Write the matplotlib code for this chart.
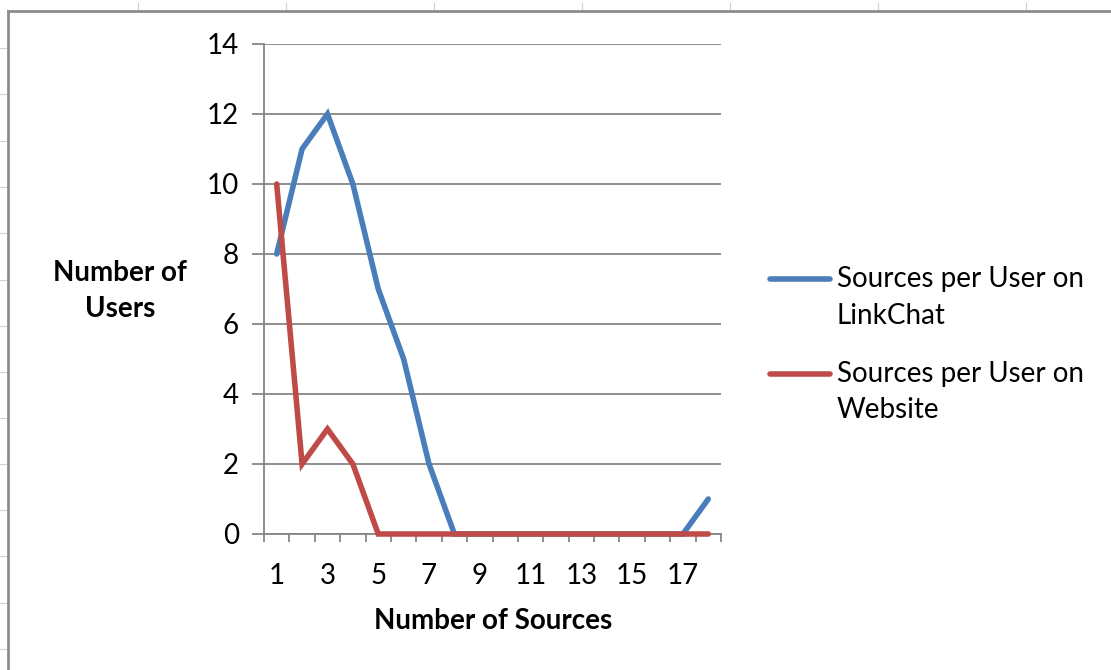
import matplotlib
matplotlib.use('Agg')
import matplotlib.pyplot as plt
from matplotlib.lines import Line2D
from matplotlib.legend_handler import HandlerLine2D
import numpy as np

plt.rcParams['font.family'] = ['Lato', 'DejaVu Sans']

# Data
sources = list(range(1, 19))
linkchat = [8, 11, 12, 10, 7, 5, 2, 0, 0, 0, 0, 0, 0, 0, 0, 0, 0, 1]
website = [10, 2, 3, 2, 0, 0, 0, 0, 0, 0, 0, 0, 0, 0, 0, 0, 0, 0]
series_names = ['Sources per User on\nLinkChat', 'Sources per User on\nWebsite']
colors = ['#4A7EBB', '#BE4B48']

W, H = 1111, 670
FS = 20
fig = plt.figure(figsize=(W / 100, H / 100), dpi=100)

def fx(px):
    return px / W

def fy(py):
    return 1 - py / H

# spreadsheet background: little gridline stubs and chart frame
stub = '#c9d1dd'
for x in [138, 286, 434, 582, 730, 878, 1026]:
    fig.add_artist(Line2D([fx(x), fx(x)], [fy(3), fy(10)], color=stub, lw=0.8))
for y in [48, 94, 141, 187, 233, 280, 326, 372, 418, 464, 510, 556, 603, 649]:
    fig.add_artist(Line2D([fx(0), fx(6)], [fy(y), fy(y)], color=stub, lw=0.8))
frame = '#8c8c8c'
fig.add_artist(Line2D([fx(8), fx(W)], [fy(11), fy(11)], color=frame, lw=2))
fig.add_artist(Line2D([fx(8), fx(8)], [fy(11), fy(H)], color=frame, lw=2))

ax = fig.add_axes([fx(264), fy(534), fx(721) - fx(264), fy(44) - fy(534)])

grid = '#868686'
x = np.arange(len(sources))
ax.plot(x, linkchat, color=colors[0], lw=4, solid_capstyle='round',
        solid_joinstyle='miter', label=series_names[0], zorder=3, clip_on=False)
ax.plot(x, website, color=colors[1], lw=4, solid_capstyle='round',
        solid_joinstyle='miter', label=series_names[1], zorder=4, clip_on=False)

ax.set_xlim(-0.5, len(sources) - 0.5)
ax.set_ylim(0, 14)
ax.set_yticks(range(0, 15, 2))
ax.yaxis.grid(True, color=grid, lw=1.3)
ax.set_axisbelow(True)

ax.set_xticks(np.arange(-0.5, len(sources), 1.0))
ax.set_xticklabels([])
ax.set_xticks(x[::2], minor=True)
ax.set_xticklabels([str(s) for s in sources[::2]], minor=True)
ax.tick_params(axis='x', which='major', length=6, width=1.3, color=grid, direction='out')
ax.tick_params(axis='x', which='minor', length=0, labelsize=FS, pad=21)
ax.tick_params(axis='y', length=9, width=1.3, color=grid, labelsize=FS, pad=9)

for side in ['top', 'right']:
    ax.spines[side].set_visible(False)
ax.spines['left'].set_color(grid)
ax.spines['left'].set_linewidth(1.3)
ax.spines['bottom'].set_color(grid)
ax.spines['bottom'].set_linewidth(1.3)

fig.text(fx(120), fy(291), 'Number of\nUsers', ha='center', va='center',
         fontsize=FS, fontweight='bold', linespacing=1.5)
fig.text(fx(493), fy(621), 'Number of Sources', ha='center', va='center',
         fontsize=FS, fontweight='bold')


class TopLineHandler(HandlerLine2D):
    # put the legend line level with the first line of a two-line label
    def create_artists(self, *args, **kwargs):
        arts = super().create_artists(*args, **kwargs)
        for a in arts:
            a.set_ydata(np.asarray(a.get_ydata()) + 14.0)
        return arts


h = TopLineHandler()
leg = fig.legend(loc='upper left', bbox_to_anchor=(fx(770), fy(266)), frameon=False,
                 fontsize=FS, handlelength=2.15, handletextpad=0.25, labelspacing=1.17,
                 borderaxespad=0, borderpad=0,
                 handler_map={Line2D: h})
for t in leg.get_texts():
    t.set_linespacing(1.5)

fig.savefig('out.png', dpi=100)
